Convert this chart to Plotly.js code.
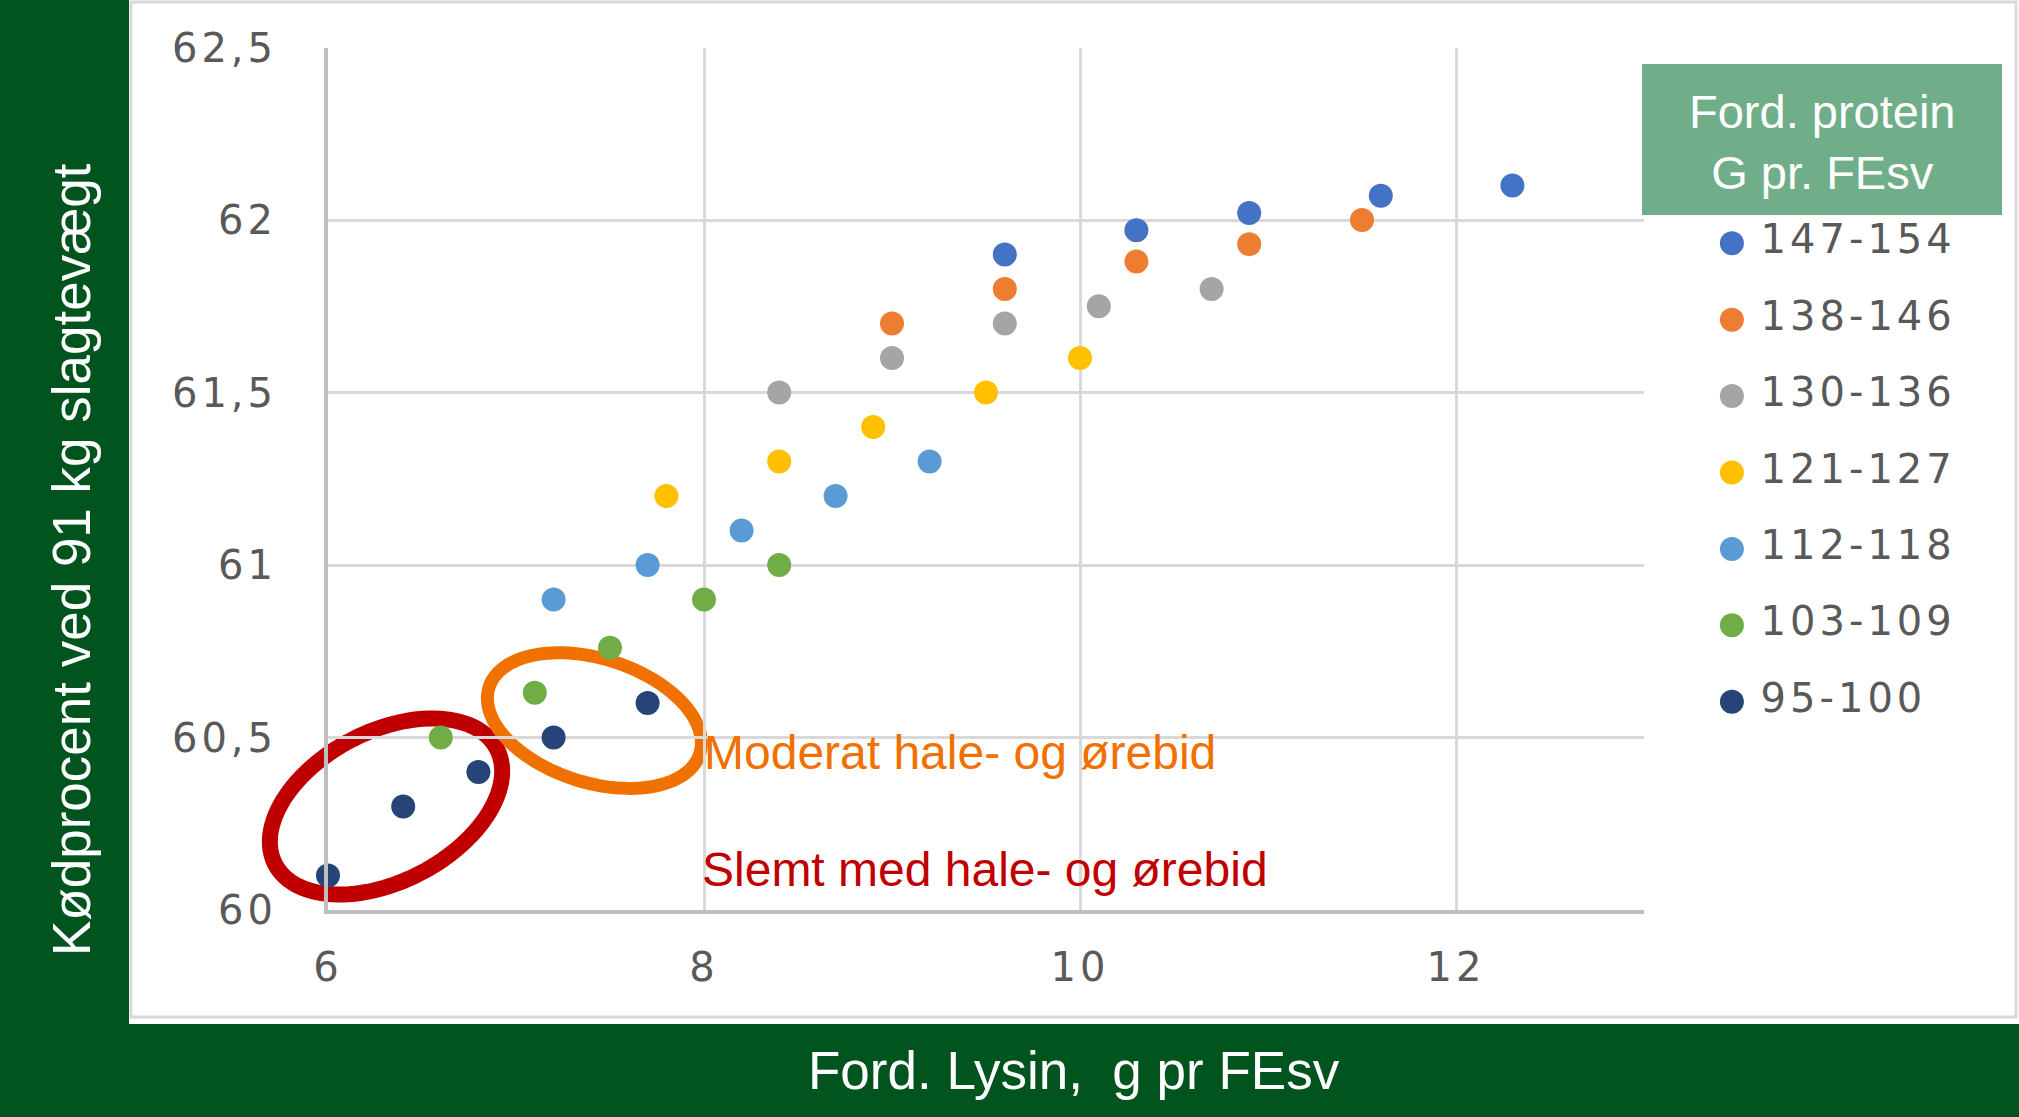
<!DOCTYPE html>
<html>
<head>
<meta charset="utf-8">
<script src="https://cdn.plot.ly/plotly-3.0.1.min.js"></script>
<style>
  html, body { margin: 0; padding: 0; background: #ffffff; }
  #chart { width: 2019px; height: 1117px; }
  .xtick text, .ytick text { letter-spacing: 4px; }
  .textpoint text { letter-spacing: 4px; }
</style>
</head>
<body>
<div id="chart"></div>
<script>
// ---------- Data ----------
const groupLabels = ['147-154', '138-146', '130-136', '121-127', '112-118', '103-109', '95-100'];
const groupColors = ['#4472C4', '#ED7D31', '#A5A5A5', '#FFC000', '#5B9BD5', '#70AD47', '#264478'];

const lysin147 = [9.6, 10.3, 10.9, 11.6, 12.3];
const kod147   = [61.9, 61.97, 62.02, 62.07, 62.1];
const lysin138 = [9.0, 9.6, 10.3, 10.9, 11.5];
const kod138   = [61.7, 61.8, 61.88, 61.93, 62.0];
const lysin130 = [8.4, 9.0, 9.6, 10.1, 10.7];
const kod130   = [61.5, 61.6, 61.7, 61.75, 61.8];
const lysin121 = [7.8, 8.4, 8.9, 9.5, 10.0];
const kod121   = [61.2, 61.3, 61.4, 61.5, 61.6];
const lysin112 = [7.2, 7.7, 8.2, 8.7, 9.2];
const kod112   = [60.9, 61.0, 61.1, 61.2, 61.3];
const lysin103 = [6.6, 7.1, 7.5, 8.0, 8.4];
const kod103   = [60.5, 60.63, 60.76, 60.9, 61.0];
const lysin95  = [6.0, 6.4, 6.8, 7.2, 7.7];
const kod95    = [60.1, 60.3, 60.4, 60.5, 60.6];

const xTitle = 'Ford. Lysin,\u00a0 g pr FEsv';
const yTitle = 'Kødprocent ved 91 kg slagtevægt';
const legendTitle = 'Ford. protein<br>G pr. FEsv';
const noteModerat = 'Moderat hale- og ørebid';
const noteSlemt = 'Slemt med hale- og ørebid';

// ---------- Geometry helpers ----------
const W = 2019, H = 1117;
const PL = 328, PR = 1644, PT = 47.5, PB = 910;
const X0 = 6, X1 = 13, Y0 = 60, Y1 = 62.5;
const kx = (PR - PL) / (X1 - X0);
const ky = (PB - PT) / (Y1 - Y0);
const px = v => v / W;
const py = v => 1 - v / H;

// ellipse around a data-space centre, radii in pixels, drawn in paper space (unclipped)
function ellipsePath(cx, cy, a, b, angDeg) {
  const th = angDeg * Math.PI / 180;
  const cxp = PL + (cx - X0) * kx;
  const cyp = PB - (cy - Y0) * ky;
  const pts = [];
  const n = 120;
  for (let i = 0; i <= n; i++) {
    const t = 2 * Math.PI * i / n;
    const dx = a * Math.cos(t) * Math.cos(th) - b * Math.sin(t) * Math.sin(th);
    const dy = a * Math.cos(t) * Math.sin(th) + b * Math.sin(t) * Math.cos(th);
    pts.push(px(cxp + dx).toFixed(6) + ',' + py(cyp - dy).toFixed(6));
  }
  return 'M' + pts.join('L') + 'Z';
}

// ---------- Traces ----------
const seriesX = [lysin147, lysin138, lysin130, lysin121, lysin112, lysin103, lysin95];
const seriesY = [kod147, kod138, kod130, kod121, kod112, kod103, kod95];

const traces = [];
for (let i = seriesX.length - 1; i >= 0; i--) {
  traces.push({
    type: 'scatter', mode: 'markers', name: groupLabels[i],
    x: seriesX[i], y: seriesY[i], xaxis: 'x', yaxis: 'y',
    marker: { color: groupColors[i], size: 24 },
    showlegend: false, hoverinfo: 'skip', cliponaxis: false
  });
}
// custom legend drawn on its own small axis
const legendIdx = groupLabels.map((_, i) => i);
traces.push({
  type: 'scatter', mode: 'markers', x: groupLabels.map(() => 0.1), y: legendIdx,
  xaxis: 'x2', yaxis: 'y2', marker: { color: groupColors, size: 24 },
  showlegend: false, hoverinfo: 'skip', cliponaxis: false
});
traces.push({
  type: 'scatter', mode: 'text', x: groupLabels.map(() => 0.19), y: legendIdx,
  xaxis: 'x2', yaxis: 'y2', text: groupLabels, textposition: 'middle right',
  textfont: { family: 'DejaVu Sans', size: 40, color: '#595959' },
  showlegend: false, hoverinfo: 'skip', cliponaxis: false
});

const tickFont = { family: 'DejaVu Sans', size: 40, color: '#595959' };

const layout = {
  width: W, height: H,
  margin: { l: 0, r: 0, t: 0, b: 0 },
  paper_bgcolor: '#ffffff', plot_bgcolor: 'rgba(0,0,0,0)',
  separators: ', ',
  showlegend: false,
  xaxis: {
    domain: [PL / W, PR / W], range: [X0, X1], tick0: 6, dtick: 2,
    showgrid: true, gridcolor: '#D9D9D9', gridwidth: 3,
    showline: true, linecolor: '#BFBFBF', linewidth: 4, zeroline: false,
    ticks: '', ticklabelstandoff: 19, tickfont: tickFont, fixedrange: true
  },
  yaxis: {
    domain: [1 - PB / H, 1 - PT / H], range: [Y0, Y1], tick0: 60, dtick: 0.5,
    showgrid: true, gridcolor: '#D9D9D9', gridwidth: 3,
    showline: true, linecolor: '#BFBFBF', linewidth: 4, zeroline: false,
    ticks: '', ticklabelstandoff: 39, tickfont: tickFont, fixedrange: true
  },
  xaxis2: { domain: [1700 / W, 1], range: [0, 1], anchor: 'y2', visible: false, fixedrange: true },
  yaxis2: { domain: [1 - 740 / H, 1 - 205 / H], range: [6.5, -0.5], anchor: 'x2', visible: false, fixedrange: true },
  shapes: [
    // chart frame
    { type: 'rect', xref: 'paper', yref: 'paper', x0: px(131), x1: px(2016), y0: py(1017), y1: py(2),
      line: { color: '#D9D9D9', width: 3 }, fillcolor: 'rgba(0,0,0,0)', layer: 'below' },
    // green bands
    { type: 'rect', xref: 'paper', yref: 'paper', x0: 0, x1: px(129), y0: 0, y1: 1,
      line: { width: 0 }, fillcolor: '#02541F', layer: 'below' },
    { type: 'rect', xref: 'paper', yref: 'paper', x0: px(129), x1: 1, y0: 0, y1: py(1024),
      line: { width: 0 }, fillcolor: '#02541F', layer: 'below' },
    // legend title box
    { type: 'rect', xref: 'paper', yref: 'paper', x0: px(1642), x1: px(2002), y0: py(215), y1: py(64),
      line: { width: 0 }, fillcolor: '#70AE8A', layer: 'below' },
    // ellipses
    { type: 'path', xref: 'paper', yref: 'paper', path: ellipsePath(6.3085, 60.30, 125, 75, 27.5),
      line: { color: '#C00000', width: 16 }, fillcolor: 'rgba(0,0,0,0)', layer: 'below' },
    { type: 'path', xref: 'paper', yref: 'paper', path: ellipsePath(7.417, 60.549, 110.5, 62, -17.5),
      line: { color: '#F07000', width: 13 }, fillcolor: 'rgba(0,0,0,0)', layer: 'below' }
  ],
  annotations: [
    { text: yTitle, xref: 'paper', yref: 'paper', x: px(71), y: py(560), textangle: -90,
      showarrow: false, xanchor: 'center', yanchor: 'middle',
      font: { family: 'Liberation Sans', size: 53, color: '#ffffff' } },
    { text: xTitle, xref: 'paper', yref: 'paper', x: px(1074), y: py(1070),
      showarrow: false, xanchor: 'center', yanchor: 'middle',
      font: { family: 'Liberation Sans', size: 53, color: '#ffffff' } },
    { text: legendTitle, xref: 'paper', yref: 'paper', x: px(1822), y: py(142),
      showarrow: false, xanchor: 'center', yanchor: 'middle',
      font: { family: 'Liberation Sans', size: 47, color: '#ffffff' } },
    { text: noteModerat, xref: 'x', yref: 'y', x: 7.99, y: 60.456,
      showarrow: false, xanchor: 'left', yanchor: 'middle',
      font: { family: 'Liberation Sans', size: 48, color: '#F07000' } },
    { text: noteSlemt, xref: 'x', yref: 'y', x: 7.98, y: 60.117,
      showarrow: false, xanchor: 'left', yanchor: 'middle',
      font: { family: 'Liberation Sans', size: 48, color: '#C00000' } }
  ]
};

Plotly.newPlot('chart', traces, layout, { staticPlot: true, displayModeBar: false });
</script>
</body>
</html>
